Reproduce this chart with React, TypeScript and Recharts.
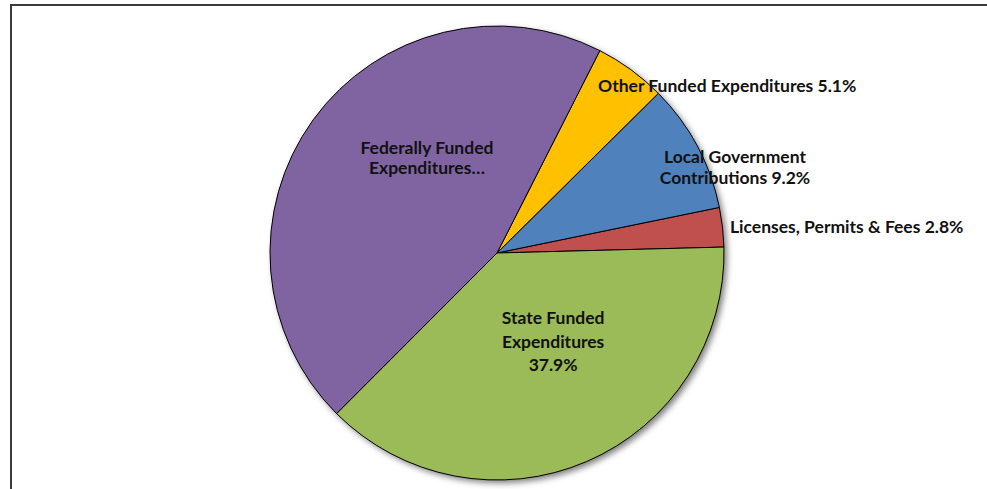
import React from "react";
import { PieChart, Pie, Cell } from "recharts";

const NAMES = [
  "Licenses, Permits & Fees",
  "Local Government Contributions",
  "Other Funded Expenditures",
  "Federally Funded Expenditures",
  "State Funded Expenditures",
];

const VALUES = [2.8, 9.2, 5.1, 45.0, 37.9];

// text shown on each slice, as it is broken into lines in the picture
const LABEL_LINES = [
  ["Licenses, Permits & Fees 2.8%"],
  ["Local Government", "Contributions 9.2%"],
  ["Other Funded Expenditures 5.1%"],
  ["Federally Funded", "Expenditures…"],
  ["State Funded", "Expenditures", "37.9%"],
];

const COLORS = ["#C0504D", "#4F81BD", "#FFC000", "#8064A2", "#9BBB59"];

// where each label sits: polar angle (deg) and radius as a share of the pie radius
const LABEL_LAYOUT = [
  { angle: 6.4, r: 1.033, anchor: "start", lh: 21 },
  { angle: 19.9, r: 1.115, anchor: "middle", lh: 21 },
  { angle: 36.1, r: 1.255, anchor: "middle", lh: 21 },
  { angle: 126.4, r: 0.52, anchor: "middle", lh: 20 },
  { angle: -57.5, r: 0.46, anchor: "middle", lh: 23.5 },
];

const data = NAMES.map((name, i) => ({ name, value: VALUES[i] }));

const FONT = "Lato, 'Open Sans', sans-serif";

const renderLabel = (props: any) => {
  const { cx, cy, outerRadius, index } = props;
  const layout = LABEL_LAYOUT[index];
  const lines = LABEL_LINES[index];
  const rad = (layout.angle * Math.PI) / 180;
  const x = cx + outerRadius * layout.r * Math.cos(rad);
  const y = cy - outerRadius * layout.r * Math.sin(rad);
  const n = lines.length;
  return (
    <text
      key={`label-${index}`}
      x={x}
      y={y}
      textAnchor={layout.anchor}
      fontFamily={FONT}
      fontWeight={700}
      fontSize={17.5}
      fill="#111"
    >
      {lines.map((line, i) => (
        <tspan
          key={i}
          x={x}
          y={y + (i - (n - 1) / 2) * layout.lh}
          dominantBaseline="central"
        >
          {line}
        </tspan>
      ))}
    </text>
  );
};

export default function App() {
  return (
    <div
      style={{
        position: "absolute",
        left: 0,
        top: 0,
        width: 987,
        height: 489,
        background: "#fff",
        overflow: "hidden",
      }}
    >
      <div
        style={{
          position: "absolute",
          left: 10,
          top: 4,
          width: 990,
          height: 500,
          borderLeft: "2px solid #3a3a3a",
          borderTop: "2px solid #3a3a3a",
        }}
      />
      <div style={{ position: "absolute", left: 0, top: 0 }}>
        <PieChart
          width={987}
          height={489}
          margin={{ top: 0, right: 0, bottom: 0, left: 0 }}
        >
          <defs>
            <filter id="pieShadow" x="-10%" y="-10%" width="130%" height="130%">
              <feGaussianBlur stdDeviation="3" />
            </filter>
          </defs>
          <Pie
            data={[{ name: "shadow", value: 1 }]}
            dataKey="value"
            cx={500}
            cy={256}
            outerRadius={227}
            startAngle={0}
            endAngle={360}
            fill="#7a7a7a"
            stroke="none"
            filter="url(#pieShadow)"
            isAnimationActive={false}
            label={false}
          />
          <Pie
            data={data}
            dataKey="value"
            cx={497}
            cy={253}
            outerRadius={227}
            startAngle={1.5}
            endAngle={361.5}
            stroke="#000"
            strokeWidth={1}
            label={renderLabel}
            labelLine={false}
            isAnimationActive={false}
          >
            {data.map((_, index) => (
              <Cell key={`cell-${index}`} fill={COLORS[index]} />
            ))}
          </Pie>
        </PieChart>
      </div>
    </div>
  );
}
